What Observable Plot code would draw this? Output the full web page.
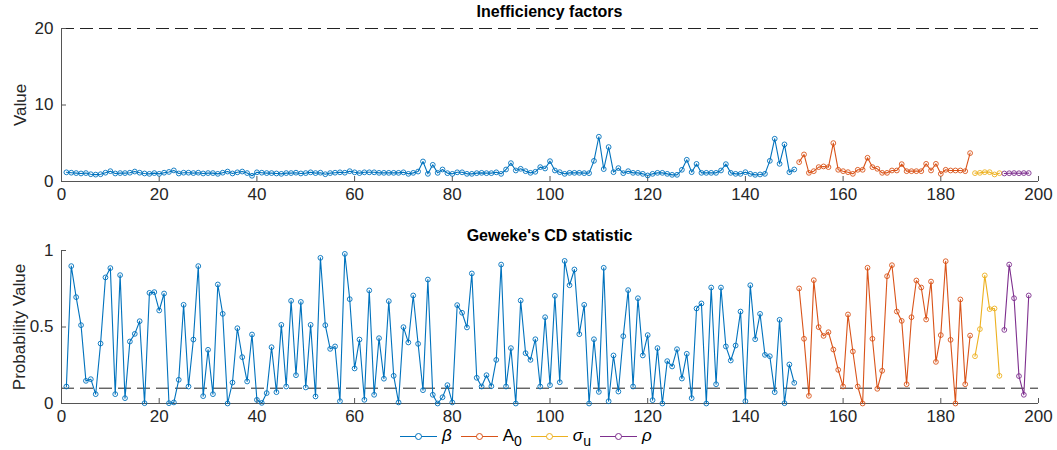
<!DOCTYPE html>
<html><head><meta charset="utf-8">
<script src="https://cdn.jsdelivr.net/npm/d3@7"></script>
<script src="https://cdn.jsdelivr.net/npm/@observablehq/plot@0.6"></script>
<style>
body{margin:0;background:#fff;overflow:hidden;font-family:"Liberation Sans",Arial,Helvetica,sans-serif;}
#wrap{position:relative;width:1057px;height:450px;}
#wrap svg{display:block;}
.title{position:absolute;left:61px;width:977px;text-align:center;font-weight:bold;font-size:16px;color:#000;line-height:18px;}
.ylab{position:absolute;font-size:17px;color:#262626;white-space:nowrap;transform:translate(-50%,-50%) rotate(-90deg);line-height:18px;}
#legend{height:18px;display:flex;align-items:center;padding-left:400px;font-size:17px;color:#000;line-height:18px;}
.item{display:flex;align-items:center;margin-right:9px;}
.sw{position:relative;display:inline-block;width:37px;height:1px;margin-right:5px;}
.sw span{position:absolute;left:15px;top:-3px;width:5px;height:5px;border-radius:50%;border:1px solid;background:#fff;}
.item sub{font-size:14px;vertical-align:-5px;line-height:0;}
</style></head><body>
<div id="wrap"></div>
<script>
// ---- data ----
const seriesNames = ["beta", "A0", "sigma_u", "rho"];
const seriesColors = ["#0072BD", "#D95319", "#EDB120", "#7E2F8E"];
const legendLabels = ["<i>β</i>", "A<sub>0</sub>", "<i>σ</i><sub>u</sub>", "<i>ρ</i>"];
const xTicks = [0, 20, 40, 60, 80, 100, 120, 140, 160, 180, 200];
const ifTicks = [0, 10, 20];
const cdTicks = [0, 0.5, 1];
const ifThreshold = 20;
const cdThreshold = 0.1;

// Inefficiency factors
const ifBeta = [1.2,1.15,1.1,1.05,1.1,0.95,0.9,0.95,1.15,1.35,1.05,1.1,1.1,1.15,1.3,1.15,1.05,1.0,1.1,1.0,
  1.15,1.25,1.45,1.05,1.15,1.15,1.1,1.15,1.05,1.1,1.1,1.0,1.15,1.3,1.05,1.2,1.3,1.1,0.75,1.2,
  1.15,1.1,1.1,1.05,1.0,1.1,1.1,1.15,1.05,1.1,1.2,1.1,1.15,0.95,1.1,1.15,1.2,1.15,1.35,1.2,
  1.1,1.2,1.2,1.2,1.13,1.13,1.13,1.13,1.13,1.2,1.0,1.13,1.3,2.62,1.0,2.18,1.13,1.57,1.09,1.0,
  1.2,1.2,1.0,1.0,1.09,1.13,1.09,1.09,1.2,1.0,1.57,2.4,1.44,1.66,1.35,1.13,1.27,1.88,1.7,2.66,
  1.44,1.22,1.0,1.13,1.13,1.13,1.09,1.09,2.7,5.85,1.62,4.5,1.22,1.75,1.09,1.35,1.13,1.13,1.0,0.79,
  1.0,1.13,1.13,1.0,0.87,0.87,1.53,2.84,1.22,2.3,1.13,1.13,1.13,1.13,1.44,2.27,1.13,1.0,1.0,1.22,
  1.0,0.87,0.92,1.0,2.7,5.59,2.31,4.85,1.22,1.57];
const ifA0 = [2.53,3.54,1.13,1.35,1.88,1.97,1.88,5.02,1.53,1.35,1.22,1.0,1.53,1.53,3.1,1.88,1.66,1.13,
  1.13,1.44,1.44,2.27,1.35,1.35,1.35,1.35,2.31,1.44,2.31,1.0,1.53,1.44,1.44,1.44,1.35,3.71];
const ifSigma = [1.09,1.13,1.22,1.22,0.92,1.09];
const ifRho = [1.05,1.08,1.1,1.08,1.1,1.1];

// Geweke's CD p-values
const cdBeta = [0.111,0.898,0.695,0.512,0.148,0.159,0.061,0.392,0.824,0.885,0.061,0.839,0.035,0.405,0.455,0.538,0.002,0.723,0.728,0.608,
  0.719,0.002,0.007,0.155,0.645,0.111,0.418,0.898,0.048,0.351,0.061,0.778,0.586,0.0,0.137,0.492,0.303,0.144,0.451,0.024,
  0.004,0.068,0.368,0.074,0.514,0.111,0.671,0.185,0.664,0.105,0.514,0.046,0.952,0.512,0.357,0.373,0.015,0.978,0.682,0.229,
  0.418,0.024,0.739,0.057,0.427,0.162,0.669,0.181,0.007,0.499,0.399,0.706,0.390,0.087,0.810,0.057,0.0,0.041,0.120,0.007,
  0.643,0.593,0.497,0.850,0.168,0.111,0.185,0.113,0.285,0.908,0.111,0.362,0.0,0.673,0.329,0.285,0.420,0.111,0.564,0.120,
  0.704,0.139,0.932,0.773,0.876,0.453,0.645,0.0,0.420,0.076,0.887,0.015,0.314,0.078,0.440,0.741,0.111,0.688,0.314,0.447,
  0.022,0.362,0.0,0.277,0.242,0.355,0.163,0.325,0.035,0.621,0.654,0.0,0.758,0.126,0.758,0.373,0.281,0.379,0.601,0.015,
  0.773,0.420,0.586,0.318,0.309,0.074,0.547,0.002,0.255,0.135];
const cdA0 = [0.752,0.423,0.050,0.806,0.499,0.442,0.466,0.353,0.220,0.111,0.582,0.340,0.111,0.0,0.887,0.423,0.096,0.214,
  0.832,0.904,0.601,0.540,0.126,0.564,0.804,0.758,0.549,0.797,0.272,0.447,0.930,0.416,0.0,0.680,0.126,0.444];
const cdSigma = [0.309,0.486,0.837,0.617,0.621,0.181];
const cdRho = [0.481,0.908,0.688,0.179,0.057,0.706];

// ---- build tables ----
function table(arrays) {
  const rows = []; let i = 1;
  arrays.forEach((arr, k) => arr.forEach(v => rows.push({i: i++, v, s: seriesNames[k]})));
  return rows;
}
const ifData = table([ifBeta, ifA0, ifSigma, ifRho]);
const cdData = table([cdBeta, cdA0, cdSigma, cdRho]);

const W = 1057, ML = 61, MR = 19;
const FONT = '"Liberation Sans", Arial, Helvetica, sans-serif';
const AX = "#555";

function panel({data, yDomain, yTicks, yFmt, refY, height, mt, mb}) {
  const frameH = height - mt - mb, frameW = W - ML - MR;
  return Plot.plot({
    width: W, height, marginLeft: ML, marginRight: MR, marginTop: mt, marginBottom: mb,
    style: {fontFamily: FONT, fontSize: "17px", color: "#262626", background: "transparent", overflow: "visible"},
    x: {domain: [0, 200], label: null, axis: null},
    y: {domain: yDomain, label: null, axis: null},
    color: {domain: seriesNames, range: seriesColors},
    marks: [
      Plot.ruleY([refY], {stroke: "#222", strokeDasharray: "13,6", strokeWidth: 1}),
      Plot.text(xTicks, {x: d => d, frameAnchor: "bottom", text: d => String(d), dy: 18, fontSize: 17, fill: "#262626"}),
      Plot.text(yTicks, {y: d => d, frameAnchor: "left", text: yFmt, dx: -8, textAnchor: "end", fontSize: 17, fill: "#262626"}),
      Plot.tickX(xTicks, {x: d => d, insetTop: frameH - 5, stroke: AX}),
      Plot.tickY(yTicks, {y: d => d, insetRight: frameW - 5, stroke: AX}),
      Plot.ruleX([0], {stroke: AX, strokeWidth: 1}),
      Plot.ruleY([yDomain[0]], {stroke: AX, strokeWidth: 1}),
      Plot.line(data, {x: "i", y: "v", z: "s", stroke: "s", strokeWidth: 1.1}),
      Plot.dot(data, {x: "i", y: "v", stroke: "s", r: 2.4, strokeWidth: 0.9})
    ]
  });
}

const wrap = document.getElementById("wrap");
wrap.append(panel({data: ifData, yDomain: [0, 20], yTicks: ifTicks, yFmt: d => String(d), refY: ifThreshold, height: 215, mt: 28, mb: 34}));
wrap.append(panel({data: cdData, yDomain: [0, 1], yTicks: cdTicks, yFmt: d => String(d), refY: cdThreshold, height: 212, mt: 35, mb: 24}));

function addDiv(cls, html, style) {
  const d = document.createElement("div");
  d.className = cls; d.innerHTML = html; Object.assign(d.style, style);
  wrap.append(d); return d;
}
const leg = addDiv("", "", {});
leg.id = "legend";
seriesNames.forEach((s, k) => {
  const it = document.createElement("span");
  it.className = "item";
  it.innerHTML = `<span class="sw" style="background:${seriesColors[k]}"><span style="border-color:${seriesColors[k]}"></span></span><span>${legendLabels[k]}</span>`;
  leg.append(it);
});
addDiv("title", "Inefficiency factors", {top: "3px"});
addDiv("title", "Geweke's CD statistic", {top: "227px"});
addDiv("ylab", "Value", {left: "21px", top: "105px"});
addDiv("ylab", "Probability Value", {left: "20px", top: "327px"});
</script>
</body></html>
